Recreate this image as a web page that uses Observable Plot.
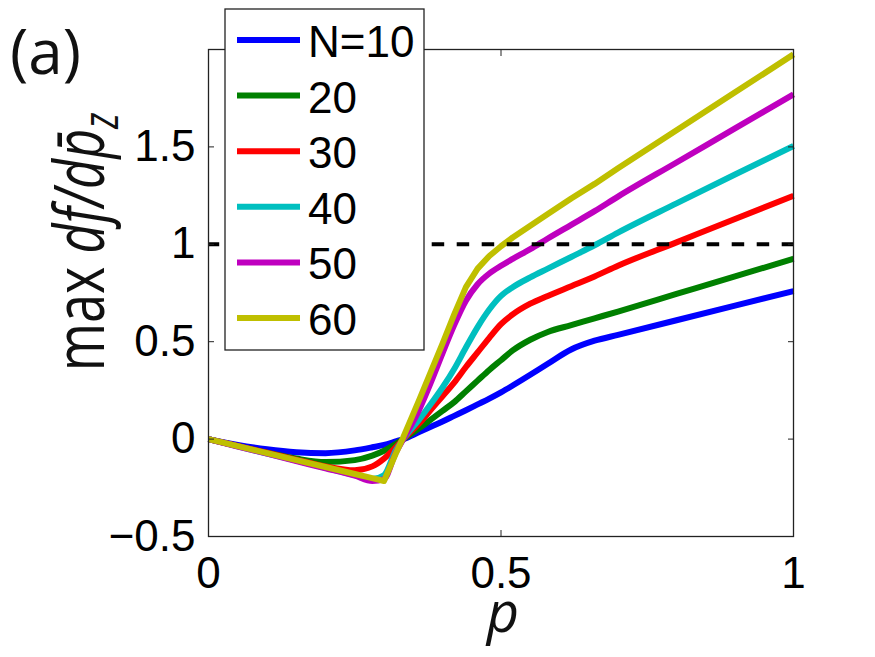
<!DOCTYPE html>
<html>
<head>
<meta charset="utf-8">
<script src="https://cdn.jsdelivr.net/npm/d3@7"></script>
<script src="https://cdn.jsdelivr.net/npm/@observablehq/plot@0.6"></script>
<style>
  html, body { margin: 0; padding: 0; background: #fff; }
  #wrap { position: relative; width: 875px; height: 657px; overflow: hidden; }
  #overlay { position: absolute; left: 0; top: 0; }
</style>
</head>
<body>
<div id="wrap"></div>
<script>
// ---- data ----
const p = [0, 0.05, 0.1, 0.15, 0.2, 0.25, 0.28, 0.3, 0.32, 0.333, 0.36, 0.38, 0.4, 0.42, 0.44, 0.46, 0.48, 0.5, 0.52, 0.55, 0.58, 0.62, 0.66, 0.7, 0.8, 0.9, 1.0];
const N10 = [0, -0.03, -0.052, -0.067, -0.072, -0.058, -0.042, -0.03, -0.012, 0.0, 0.036, 0.063, 0.09, 0.119, 0.148, 0.178, 0.208, 0.24, 0.275, 0.33, 0.387, 0.46, 0.505, 0.535, 0.61, 0.685, 0.76];
const N20 = [0, -0.036, -0.07, -0.1, -0.118, -0.108, -0.085, -0.06, -0.025, 0.0, 0.055, 0.1, 0.145, 0.19, 0.245, 0.3, 0.355, 0.405, 0.455, 0.51, 0.55, 0.585, 0.62, 0.655, 0.745, 0.835, 0.926];
const N30 = [0, -0.035, -0.07, -0.105, -0.14, -0.16, -0.14, -0.1, -0.042, 0.0, 0.08, 0.15, 0.22, 0.29, 0.37, 0.445, 0.52, 0.59, 0.64, 0.695, 0.735, 0.785, 0.835, 0.89, 1.01, 1.13, 1.249];
const N40 = [0, -0.037, -0.074, -0.11, -0.148, -0.185, -0.205, -0.185, -0.058, 0.0, 0.1, 0.18, 0.265, 0.36, 0.47, 0.575, 0.665, 0.735, 0.78, 0.83, 0.875, 0.935, 0.995, 1.06, 1.21, 1.358, 1.505];
const N50 = [0, -0.038, -0.075, -0.113, -0.15, -0.188, -0.215, -0.205, -0.07, 0.0, 0.15, 0.29, 0.44, 0.585, 0.71, 0.795, 0.85, 0.89, 0.925, 0.975, 1.03, 1.1, 1.17, 1.245, 1.42, 1.595, 1.77];
const N60 = [0, -0.036, -0.072, -0.108, -0.143, -0.179, -0.2, -0.215, -0.075, 0.01, 0.2, 0.345, 0.49, 0.64, 0.78, 0.875, 0.94, 0.99, 1.035, 1.095, 1.155, 1.235, 1.31, 1.39, 1.585, 1.78, 1.975];
const seriesValues = [N10, N20, N30, N40, N50, N60];
const seriesLabels = ["N=10", "20", "30", "40", "50", "60"];
const seriesColors = ["#0000ff", "#008000", "#ff0000", "#00bfbf", "#bf00bf", "#bfbf00"];
const seriesCurves = ["monotone-x", "monotone-x", "monotone-x", "monotone-x", "monotone-x", "linear"];
const xTicks = [0, 0.5, 1];
const yTicks = [-0.5, 0, 0.5, 1, 1.5];
const threshold = [1];

const fmt = d => d < 0 ? "\u2212" + Math.abs(d) : String(d);
const FONT = "'Liberation Sans', Arial, Helvetica, sans-serif";

const lineMarks = seriesValues.map((vals, i) =>
  Plot.line(p.map((x, j) => ({p: x, v: vals[j], s: seriesLabels[i]})), {
    x: "p", y: "v", stroke: seriesColors[i], strokeWidth: 6, curve: seriesCurves[i],
    strokeLinejoin: "round", strokeLinecap: "butt"
  })
);

const chart = Plot.plot({
  width: 875,
  height: 657,
  marginLeft: 208,
  marginRight: 82,
  marginTop: 49,
  marginBottom: 121,
  x: {domain: [0, 1]},
  y: {domain: [-0.5, 2]},
  style: {fontFamily: FONT, background: "#fff", color: "#000", overflow: "visible"},
  marks: [
    ...lineMarks,
    Plot.ruleY(threshold, {stroke: "#000", strokeWidth: 4, strokeDasharray: "12.5,12.5", strokeDashoffset: 1.3}),
    Plot.frame({stroke: "#222", strokeWidth: 1.3}),
    Plot.axisX({ticks: xTicks, anchor: "bottom", tickSize: 6, dy: -6, tickPadding: 20, fontSize: 44, label: null, tickFormat: fmt, stroke: "#222"}),
    Plot.axisX({ticks: xTicks, anchor: "top", tickSize: 6, dy: 6, label: null, tickFormat: () => "", stroke: "#222"}),
    Plot.axisY({ticks: yTicks, anchor: "left", tickSize: 6, dx: 6, tickPadding: 13, fontSize: 44, label: null, tickFormat: fmt, stroke: "#222"}),
    Plot.axisY({ticks: yTicks, anchor: "right", tickSize: 6, dx: -6, label: null, tickFormat: () => "", stroke: "#222"})
  ]
});

const wrap = document.getElementById("wrap");
wrap.appendChild(chart);

// ---- overlay: legend, panel tag, axis titles ----
const ov = d3.select(wrap).append("svg")
  .attr("id", "overlay")
  .attr("width", 875).attr("height", 657);

// panel tag
ov.append("text").attr("x", 10).attr("y", 74)
  .attr("font-family", "'Open Sans', 'Noto Sans', sans-serif").attr("font-size", 62)
  .attr("fill", "#111").text("(a)");

// y title (glyphs stretched like the reference)
const yt = ov.append("text")
  .attr("transform", "translate(104,242) rotate(-90) scale(1,1.35)")
  .attr("text-anchor", "middle")
  .attr("font-family", "'Open Sans', 'Noto Sans', sans-serif")
  .attr("font-size", 52).attr("fill", "#111");
yt.append("tspan").text("max ");
yt.append("tspan").attr("font-style", "italic").text("df/dp\u0304");
yt.append("tspan").attr("font-size", 36).attr("dy", 10).attr("font-style", "italic").text("z");

// x title
ov.append("text").attr("x", 503).attr("y", 632)
  .attr("text-anchor", "middle")
  .attr("font-family", "'Open Sans', 'Noto Sans', sans-serif")
  .attr("font-size", 56).attr("font-style", "italic").attr("fill", "#111").text("p");

// legend
const lg = ov.append("g");
lg.append("rect").attr("x", 225).attr("y", 9).attr("width", 199).attr("height", 341)
  .attr("fill", "#fff").attr("stroke", "#222").attr("stroke-width", 1.3);
seriesLabels.forEach((lab, i) => {
  const yy = 40 + i * 55.6;
  lg.append("line").attr("x1", 237).attr("x2", 300).attr("y1", yy).attr("y2", yy)
    .attr("stroke", seriesColors[i]).attr("stroke-width", 6);
  lg.append("text").attr("x", 308).attr("y", yy + 17)
    .attr("font-family", FONT).attr("font-size", 44).attr("fill", "#000").text(lab);
});
</script>
</body>
</html>
